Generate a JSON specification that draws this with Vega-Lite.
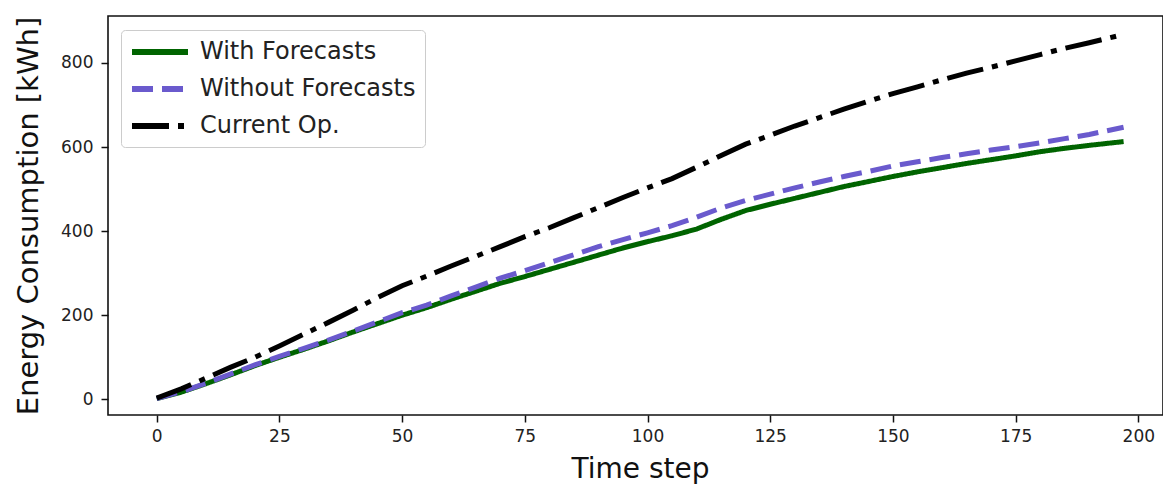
{
  "$schema": "https://vega.github.io/schema/vega-lite/v6.json",
  "width": 1055,
  "height": 399,
  "autosize": {"type": "none"},
  "padding": {"left": 108, "top": 16, "right": 0, "bottom": 70},
  "background": "white",
  "config": {
    "font": "DejaVu Sans",
    "view": {"stroke": "#111", "strokeWidth": 1.6},
    "axis": {"grid": false, "domain": false}
  },
  "data": {
    "values": [
      {"t": 0, "s": "With Forecasts", "v": 2}, {"t": 5, "s": "With Forecasts", "v": 17}, {"t": 10, "s": "With Forecasts", "v": 37}, {"t": 15, "s": "With Forecasts", "v": 58}, {"t": 20, "s": "With Forecasts", "v": 80}, {"t": 25, "s": "With Forecasts", "v": 100}, {"t": 30, "s": "With Forecasts", "v": 119}, {"t": 35, "s": "With Forecasts", "v": 139}, {"t": 40, "s": "With Forecasts", "v": 160}, {"t": 45, "s": "With Forecasts", "v": 180}, {"t": 50, "s": "With Forecasts", "v": 200}, {"t": 55, "s": "With Forecasts", "v": 218}, {"t": 60, "s": "With Forecasts", "v": 238}, {"t": 65, "s": "With Forecasts", "v": 257}, {"t": 70, "s": "With Forecasts", "v": 276}, {"t": 75, "s": "With Forecasts", "v": 292}, {"t": 80, "s": "With Forecasts", "v": 309}, {"t": 85, "s": "With Forecasts", "v": 326}, {"t": 90, "s": "With Forecasts", "v": 343}, {"t": 95, "s": "With Forecasts", "v": 360}, {"t": 100, "s": "With Forecasts", "v": 375}, {"t": 105, "s": "With Forecasts", "v": 389}, {"t": 110, "s": "With Forecasts", "v": 405}, {"t": 115, "s": "With Forecasts", "v": 428}, {"t": 120, "s": "With Forecasts", "v": 449}, {"t": 125, "s": "With Forecasts", "v": 464}, {"t": 130, "s": "With Forecasts", "v": 478}, {"t": 135, "s": "With Forecasts", "v": 492}, {"t": 140, "s": "With Forecasts", "v": 506}, {"t": 145, "s": "With Forecasts", "v": 518}, {"t": 150, "s": "With Forecasts", "v": 530}, {"t": 155, "s": "With Forecasts", "v": 541}, {"t": 160, "s": "With Forecasts", "v": 551}, {"t": 165, "s": "With Forecasts", "v": 561}, {"t": 170, "s": "With Forecasts", "v": 570}, {"t": 175, "s": "With Forecasts", "v": 579}, {"t": 180, "s": "With Forecasts", "v": 589}, {"t": 185, "s": "With Forecasts", "v": 597}, {"t": 190, "s": "With Forecasts", "v": 604}, {"t": 197, "s": "With Forecasts", "v": 613},
      {"t": 0, "s": "Without Forecasts", "v": 2}, {"t": 5, "s": "Without Forecasts", "v": 18}, {"t": 10, "s": "Without Forecasts", "v": 38}, {"t": 15, "s": "Without Forecasts", "v": 60}, {"t": 20, "s": "Without Forecasts", "v": 82}, {"t": 25, "s": "Without Forecasts", "v": 102}, {"t": 30, "s": "Without Forecasts", "v": 121}, {"t": 35, "s": "Without Forecasts", "v": 141}, {"t": 40, "s": "Without Forecasts", "v": 162}, {"t": 45, "s": "Without Forecasts", "v": 184}, {"t": 50, "s": "Without Forecasts", "v": 206}, {"t": 55, "s": "Without Forecasts", "v": 224}, {"t": 60, "s": "Without Forecasts", "v": 246}, {"t": 65, "s": "Without Forecasts", "v": 267}, {"t": 70, "s": "Without Forecasts", "v": 288}, {"t": 75, "s": "Without Forecasts", "v": 306}, {"t": 80, "s": "Without Forecasts", "v": 325}, {"t": 85, "s": "Without Forecasts", "v": 344}, {"t": 90, "s": "Without Forecasts", "v": 363}, {"t": 95, "s": "Without Forecasts", "v": 380}, {"t": 100, "s": "Without Forecasts", "v": 396}, {"t": 105, "s": "Without Forecasts", "v": 413}, {"t": 110, "s": "Without Forecasts", "v": 433}, {"t": 115, "s": "Without Forecasts", "v": 455}, {"t": 120, "s": "Without Forecasts", "v": 473}, {"t": 125, "s": "Without Forecasts", "v": 488}, {"t": 130, "s": "Without Forecasts", "v": 503}, {"t": 135, "s": "Without Forecasts", "v": 517}, {"t": 140, "s": "Without Forecasts", "v": 530}, {"t": 145, "s": "Without Forecasts", "v": 542}, {"t": 150, "s": "Without Forecasts", "v": 555}, {"t": 155, "s": "Without Forecasts", "v": 565}, {"t": 160, "s": "Without Forecasts", "v": 575}, {"t": 165, "s": "Without Forecasts", "v": 584}, {"t": 170, "s": "Without Forecasts", "v": 593}, {"t": 175, "s": "Without Forecasts", "v": 601}, {"t": 180, "s": "Without Forecasts", "v": 610}, {"t": 185, "s": "Without Forecasts", "v": 620}, {"t": 190, "s": "Without Forecasts", "v": 630}, {"t": 197, "s": "Without Forecasts", "v": 647},
      {"t": 0, "s": "Current Op.", "v": 3}, {"t": 5, "s": "Current Op.", "v": 25}, {"t": 10, "s": "Current Op.", "v": 50}, {"t": 15, "s": "Current Op.", "v": 76}, {"t": 20, "s": "Current Op.", "v": 100}, {"t": 25, "s": "Current Op.", "v": 127}, {"t": 30, "s": "Current Op.", "v": 155}, {"t": 35, "s": "Current Op.", "v": 183}, {"t": 40, "s": "Current Op.", "v": 212}, {"t": 45, "s": "Current Op.", "v": 242}, {"t": 50, "s": "Current Op.", "v": 270}, {"t": 55, "s": "Current Op.", "v": 293}, {"t": 60, "s": "Current Op.", "v": 317}, {"t": 65, "s": "Current Op.", "v": 340}, {"t": 70, "s": "Current Op.", "v": 363}, {"t": 75, "s": "Current Op.", "v": 387}, {"t": 80, "s": "Current Op.", "v": 408}, {"t": 85, "s": "Current Op.", "v": 432}, {"t": 90, "s": "Current Op.", "v": 456}, {"t": 95, "s": "Current Op.", "v": 480}, {"t": 100, "s": "Current Op.", "v": 503}, {"t": 105, "s": "Current Op.", "v": 525}, {"t": 110, "s": "Current Op.", "v": 552}, {"t": 115, "s": "Current Op.", "v": 580}, {"t": 120, "s": "Current Op.", "v": 607}, {"t": 125, "s": "Current Op.", "v": 628}, {"t": 130, "s": "Current Op.", "v": 650}, {"t": 135, "s": "Current Op.", "v": 670}, {"t": 140, "s": "Current Op.", "v": 690}, {"t": 145, "s": "Current Op.", "v": 709}, {"t": 150, "s": "Current Op.", "v": 727}, {"t": 155, "s": "Current Op.", "v": 743}, {"t": 160, "s": "Current Op.", "v": 760}, {"t": 165, "s": "Current Op.", "v": 776}, {"t": 170, "s": "Current Op.", "v": 790}, {"t": 175, "s": "Current Op.", "v": 805}, {"t": 180, "s": "Current Op.", "v": 820}, {"t": 185, "s": "Current Op.", "v": 835}, {"t": 190, "s": "Current Op.", "v": 848}, {"t": 197, "s": "Current Op.", "v": 868}
    ]
  },
  "mark": {"type": "line", "strokeWidth": 5, "clip": true},
  "encoding": {
    "x": {
      "field": "t", "type": "quantitative",
      "scale": {"domain": [-9.92, 205.03], "nice": false, "zero": false},
      "axis": {
        "values": [0, 25, 50, 75, 100, 125, 150, 175, 200],
        "title": "Time step", "titleFontSize": 28, "titleFontWeight": "normal", "titleColor": "#111",
        "titleX": 532, "titleY": 62, "titleBaseline": "alphabetic", "titleAlign": "center",
        "labelFontSize": 17, "labelColor": "#222", "labelPadding": 6,
        "tickSize": 7, "tickWidth": 1.5, "tickColor": "#111", "labelFlush": false
      }
    },
    "y": {
      "field": "v", "type": "quantitative",
      "scale": {"domain": [-37.3, 911.7], "nice": false, "zero": false},
      "axis": {
        "values": [0, 200, 400, 600, 800],
        "title": "Energy Consumption [kWh]", "titleFontSize": 29, "titleFontWeight": "normal", "titleColor": "#111",
        "titleX": -71, "titleY": 199.5, "titleAngle": -90, "titleBaseline": "alphabetic", "titleAlign": "center",
        "labelFontSize": 17, "labelColor": "#222", "labelPadding": 8,
        "tickSize": 7, "tickWidth": 1.5, "tickColor": "#111"
      }
    },
    "color": {
      "field": "s", "type": "nominal",
      "scale": {"domain": ["With Forecasts", "Without Forecasts", "Current Op."], "range": ["#006400", "#6a5acd", "#000000"]},
      "legend": {
        "title": null, "orient": "none", "legendX": 13, "legendY": 14,
        "symbolType": "M-2.8,0H2.8", "symbolSize": 400, "symbolStrokeWidth": 6, "symbolOffset": 17,
        "labelFontSize": 24, "labelColor": "#222", "labelOffset": 27, "labelLimit": 0, "rowPadding": 12,
        "padding": 9, "strokeColor": "#cccccc", "fillColor": "rgba(255,255,255,0.85)", "cornerRadius": 4
      }
    },
    "strokeDash": {
      "field": "s", "type": "nominal",
      "scale": {"domain": ["With Forecasts", "Without Forecasts", "Current Op."], "range": [[1, 0], [21, 9], [37, 9, 6, 9]]},
      "legend": null
    }
  }
}
